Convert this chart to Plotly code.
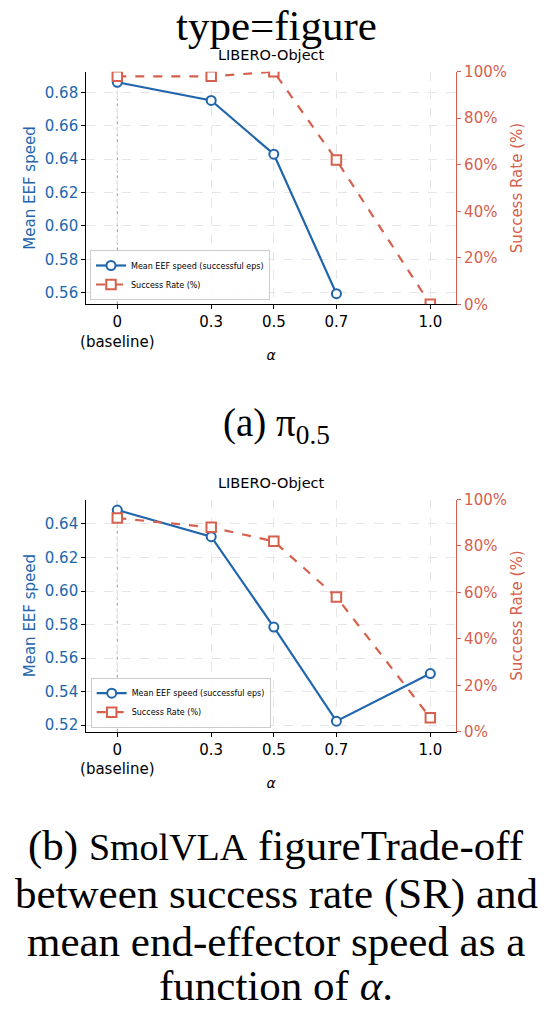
import plotly.graph_objects as go

# ---------------- data ----------------
ALPHA = [0, 0.3, 0.5, 0.7, 1.0]
ALPHA_TICKS = ["0<br>(baseline)", "0.3", "0.5", "0.7", "1.0"]

PI05_SPEED = [0.6861, 0.6752, 0.6430, 0.5594, None]
PI05_SR = [98, 98, 100, 62, 0]

SMOL_SPEED = [0.6483, 0.6324, 0.5785, 0.5224, 0.5508]
SMOL_SR = [92, 88, 82, 58, 6]

SR_TICKS = [0, 20, 40, 60, 80, 100]
SR_TICKTEXT = [f"{v}%" for v in SR_TICKS]
TITLE = "LIBERO-Object"
SPEED_NAME = "Mean EEF speed (successful eps)"
SR_NAME = "Success Rate (%)"

BLUE = "#2166ac"
RED = "#d6604d"
GRID = "#e6e6e6"
W, H = 552, 1011
SANS = "DejaVu Sans"
SERIF = "Liberation Serif"


def py(p):
    return 1 - p / H


def px(p):
    return p / W


def margins(vals):
    v = [x for x in vals if x is not None]
    lo, hi = min(v), max(v)
    s = hi - lo
    return [lo - 0.05 * s, hi + 0.05 * s]


fig = go.Figure()

panels = [
    dict(speed=PI05_SPEED, sr=PI05_SR, x="x", y="y", y2="y2", top=71.7, bot=304.3,
         legend="legend", ticks=[0.56, 0.58, 0.60, 0.62, 0.64, 0.66, 0.68]),
    dict(speed=SMOL_SPEED, sr=SMOL_SR, x="x2", y="y3", y2="y4", top=499.5, bot=731.7,
         legend="legend2", ticks=[0.52, 0.54, 0.56, 0.58, 0.60, 0.62, 0.64]),
]

for p in panels:
    fig.add_trace(go.Scatter(
        x=ALPHA, y=p["speed"], xaxis=p["x"], yaxis=p["y"], name=SPEED_NAME,
        mode="lines+markers", legend=p["legend"],
        line=dict(color=BLUE, width=2.2),
        marker=dict(symbol="circle", size=9, color="white", line=dict(color=BLUE, width=2)),
    ))
    fig.add_trace(go.Scatter(
        x=ALPHA, y=p["sr"], xaxis=p["x"], yaxis=p["y2"], name=SR_NAME,
        mode="lines+markers", legend=p["legend"],
        line=dict(color=RED, width=2.2, dash="dash"),
        marker=dict(symbol="square", size=9.5, color="white", line=dict(color=RED, width=2)),
    ))

xdom = [px(86.3), px(456)]
axis_font = dict(family=SANS, size=15)

for i, p in enumerate(panels):
    xs = "" if i == 0 else "2"
    ya = "yaxis" if i == 0 else "yaxis3"
    yb = "yaxis2" if i == 0 else "yaxis4"
    ydom = [py(p["bot"]), py(p["top"])]
    fig.update_layout(**{
        "xaxis" + xs: dict(
            domain=xdom, anchor=p["y"], range=[-0.099, 1.082], automargin=False,
            tickvals=ALPHA, ticktext=ALPHA_TICKS, ticks="outside", ticklen=4,
            tickcolor="black", showline=True, linecolor="black", linewidth=1.2,
            showgrid=True, gridcolor=GRID, griddash="dash", gridwidth=1,
            zeroline=False, tickfont=dict(color="black", **axis_font),
            title=dict(text="<i>α</i>", font=dict(color="black", family=SANS, size=14), standoff=0),
        ),
        ya: dict(
            domain=ydom, anchor=p["x"], range=margins(p["speed"]), automargin=False,
            tickvals=p["ticks"], tickformat=".2f", ticks="outside", ticklen=4,
            tickcolor="black", showline=True, linecolor="black", linewidth=1.2,
            showgrid=True, gridcolor=GRID, griddash="dash", gridwidth=1,
            zeroline=False, tickfont=dict(color=BLUE, **axis_font),
            title=dict(text="Mean EEF speed", font=dict(color=BLUE, **axis_font), standoff=5),
        ),
        yb: dict(
            overlaying=p["y"], side="right", anchor=p["x"], range=[0, 100], automargin=False,
            tickvals=SR_TICKS, ticktext=SR_TICKTEXT, ticks="outside", ticklen=4,
            tickcolor=RED, showline=True, linecolor=RED, linewidth=1.2,
            showgrid=False, zeroline=False, tickfont=dict(color=RED, **axis_font),
            title=dict(text=SR_NAME, font=dict(color=RED, **axis_font), standoff=5),
        ),
    })
    fig.add_shape(type="line", x0=ALPHA[0], x1=ALPHA[0], y0=0, y1=1,
                  xref=p["x"], yref=p["y"] + " domain",
                  line=dict(color="#9a9a9a", width=1, dash="dot"), layer="below")
    fig.add_annotation(text=TITLE, xref="paper", yref="paper",
                       x=(xdom[0] + xdom[1]) / 2, y=py(p["top"] - 17), showarrow=False,
                       font=dict(family=SANS, size=14.5, color="black"), yanchor="middle")

legend_style = dict(font=dict(family=SANS, size=8, color="black"), bgcolor="rgba(255,255,255,0.85)",
                    bordercolor="#cccccc", borderwidth=1, xanchor="left", yanchor="bottom",
                    tracegroupgap=0, itemwidth=30)
fig.update_layout(
    legend=dict(x=px(90), y=py(300), **legend_style),
    legend2=dict(x=px(90.7), y=py(727.7), **legend_style),
)

# captions: (text, pixel y, anchor, size)
caps = [
    ("type=figure", 0, "top", 43),
    ("(a) π<sub>0.5</sub>", 425, "middle", 39),
    ("(b) <span style='font-size:38px'>SmolVLA</span> figureTrade-off", 846, "middle", 43),
    ("between success rate (SR) and", 894, "middle", 43),
    ("mean end-effector speed as a", 941, "middle", 43),
    ("function of <i>α</i>.", H, "bottom", 43),
]
for text, ypix, anchor, size in caps:
    fig.add_annotation(text=text, xref="paper", yref="paper", x=0.5, y=py(ypix),
                       showarrow=False, xanchor="center", yanchor=anchor,
                       font=dict(family=SERIF, size=size, color="black"))

fig.update_layout(
    width=W, height=H, margin=dict(l=0, r=0, t=0, b=0, autoexpand=False),
    paper_bgcolor="white", plot_bgcolor="white", showlegend=True,
)

fig.write_html("out.html")
